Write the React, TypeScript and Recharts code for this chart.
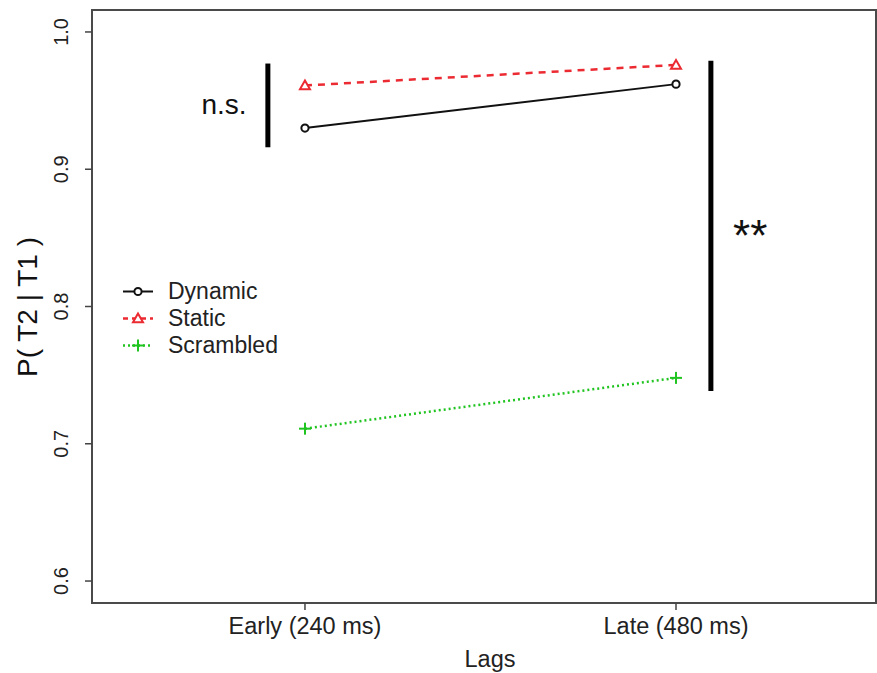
import React from 'react';
import {
  LineChart,
  Line,
  XAxis,
  YAxis,
  Legend,
  ReferenceLine,
  ReferenceDot,
  ReferenceArea,
} from 'recharts';

// lags on the x axis (numeric positions 1, 2)
const lagLabels = ['Early (240 ms)', 'Late (480 ms)'];
const lagPos = [1, 2];

// P(T2 | T1) per condition
const dynamicVals = [0.93, 0.962];
const staticVals = [0.961, 0.976];
const scrambledVals = [0.711, 0.748];

const yTicks = [0.6, 0.7, 0.8, 0.9, 1.0];

const X_DOMAIN = [0.426, 2.539];
const Y_DOMAIN = [0.584, 1.016];

const RED = '#ec2a32';
const GREEN = '#20c420';
const FONT = '"Liberation Sans", Arial, Helvetica, sans-serif';

const data = lagPos.map((x, i) => ({
  x,
  dynamic: dynamicVals[i],
  stat: staticVals[i],
  scrambled: scrambledVals[i],
}));

const series = [
  { key: 'dynamic', name: 'Dynamic', color: '#111', dash: undefined, width: 2, marker: 'circle' },
  { key: 'stat', name: 'Static', color: RED, dash: '7 6', width: 2.5, marker: 'triangle' },
  { key: 'scrambled', name: 'Scrambled', color: GREEN, dash: '2 3', width: 2.5, marker: 'plus' },
];

function Marker({ type, cx, cy, color }: { type: string; cx: number; cy: number; color: string }) {
  if (type === 'circle') {
    return <circle cx={cx} cy={cy} r={3.6} fill="#fff" stroke={color} strokeWidth={2} />;
  }
  if (type === 'triangle') {
    const s = 5;
    return (
      <polygon
        points={`${cx},${cy - s} ${cx - s},${cy + s * 0.75} ${cx + s},${cy + s * 0.75}`}
        fill="#fff"
        stroke={color}
        strokeWidth={2}
      />
    );
  }
  return (
    <g stroke={color} strokeWidth={2}>
      <line x1={cx - 6} y1={cy} x2={cx + 6} y2={cy} />
      <line x1={cx} y1={cy - 6} x2={cx} y2={cy + 6} />
    </g>
  );
}

const YTick = (props: any) => {
  const { x, y, payload } = props;
  return (
    <text
      transform={`translate(${x - 15},${y}) rotate(-90)`}
      textAnchor="middle"
      fontSize={20}
      fontFamily={FONT}
      fill="#222"
    >
      {payload.value.toFixed(1)}
    </text>
  );
};

const XTick = (props: any) => {
  const { x, y, payload } = props;
  return (
    <text x={x} y={y + 22} textAnchor="middle" fontSize={23.5} fontFamily={FONT} fill="#222">
      {lagLabels[payload.value - 1]}
    </text>
  );
};

const LegendBox = () => (
  <div style={{ fontFamily: FONT, fontSize: 23, color: '#222', lineHeight: '27px', textAlign: 'left' }}>
    {series.map((s) => (
      <div key={s.key} style={{ display: 'flex', alignItems: 'center', height: 27 }}>
        <svg width={48} height={27} style={{ overflow: 'visible' }}>
          <line x1={3} y1={13.5} x2={33} y2={13.5} stroke={s.color} strokeWidth={s.width} strokeDasharray={s.dash === '7 6' ? '5 4' : s.dash} />
          <Marker type={s.marker} cx={18} cy={13.5} color={s.color} />
        </svg>
        <span style={{ display: 'inline-block', height: 27, lineHeight: '27px' }}>{s.name}</span>
      </div>
    ))}
  </div>
);

const note = (x: number, y: number, text: string, size: number, dy: number) => (
  <ReferenceDot
    x={x}
    y={y}
    r={0}
    ifOverflow="visible"
    shape={(p: any) => (
      <text
        x={p.cx}
        y={p.cy + dy}
        textAnchor="middle"
        fontSize={size}
        fontFamily={FONT}
        fill="#111"
      >
        {text}
      </text>
    )}
  />
);

export default function App() {
  return (
    <div style={{ position: 'absolute', left: 0, top: 0, background: '#fff' }}>
      <LineChart
        width={877}
        height={673}
        data={data}
        margin={{ top: 10, right: 1, bottom: 0, left: 0 }}
      >
        <XAxis
          dataKey="x"
          type="number"
          domain={X_DOMAIN}
          ticks={lagPos}
          allowDataOverflow
          axisLine={false}
          tickSize={7}
          tickLine={{ stroke: '#444', strokeWidth: 1.5 }}
          tick={<XTick />}
          height={70}
          label={{
            content: () => (
              <text x={490} y={667} textAnchor="middle" fontSize={23.5} fontFamily={FONT} fill="#222">
                Lags
              </text>
            ),
          }}
        />
        <YAxis
          type="number"
          domain={Y_DOMAIN}
          ticks={yTicks}
          allowDataOverflow
          axisLine={false}
          tickSize={7}
          tickLine={{ stroke: '#444', strokeWidth: 1.5 }}
          tick={<YTick />}
          width={92}
          label={{
            content: () => (
              <text
                transform="translate(37,307) rotate(-90)"
                textAnchor="middle"
                fontSize={28}
                fontFamily={FONT}
                fill="#111"
              >
                P( T2 | T1 )
              </text>
            ),
          }}
        />
        <ReferenceArea
          x1={X_DOMAIN[0]}
          x2={X_DOMAIN[1]}
          y1={Y_DOMAIN[0]}
          y2={Y_DOMAIN[1]}
          fill="none"
          stroke="#4a4a4a"
          strokeWidth={2}
          ifOverflow="visible"
        />
        <Legend
          layout="horizontal"
          verticalAlign="middle"
          align="center"
          content={<LegendBox />}
          wrapperStyle={{ left: 120, top: 278, width: 'auto', height: 'auto' }}
        />
        {series.map((s) => (
          <Line
            key={s.key}
            dataKey={s.key}
            name={s.name}
            stroke={s.color}
            strokeWidth={s.width}
            strokeDasharray={s.dash}
            isAnimationActive={false}
            dot={(p: any) => <Marker key={`${s.key}-${p.index}`} type={s.marker} cx={p.cx} cy={p.cy} color={s.color} />}
            activeDot={false}
          />
        ))}
        {/* significance bars */}
        <ReferenceLine
          segment={[{ x: 0.9, y: 0.977 }, { x: 0.9, y: 0.916 }]}
          stroke="#000"
          strokeWidth={5}
          ifOverflow="visible"
        />
        <ReferenceLine
          segment={[{ x: 2.094, y: 0.979 }, { x: 2.094, y: 0.7385 }]}
          stroke="#000"
          strokeWidth={5}
          ifOverflow="visible"
        />
        {note(0.782, 0.9475, 'n.s.', 28, 10)}
        {note(2.2, 0.856, '**', 44, 21)}
      </LineChart>
    </div>
  );
}
